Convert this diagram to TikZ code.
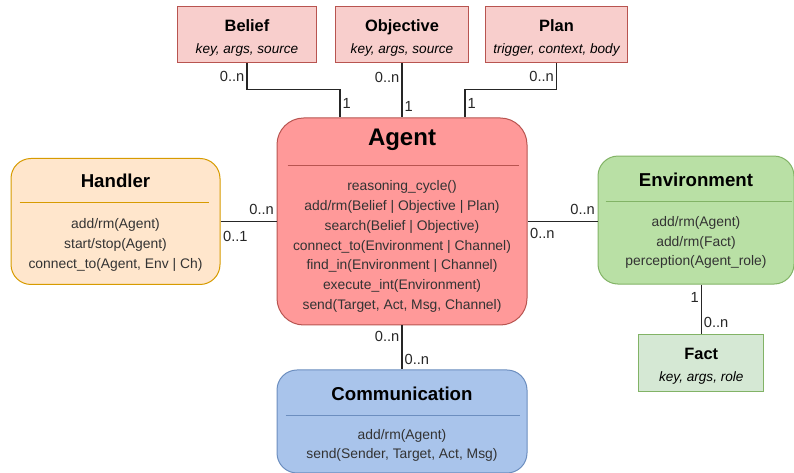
\documentclass[tikz,border=0pt]{standalone}
\usepackage{fontspec}
\setmainfont{Liberation Sans}
\usetikzlibrary{positioning,calc}
\usepackage{xcolor}

\definecolor{beliefred}{HTML}{F8CECC}
\definecolor{redline}{HTML}{B85450}
\definecolor{agentred}{HTML}{FF9999}
\definecolor{handlerorange}{HTML}{FFE6CC}
\definecolor{orangeline}{HTML}{D79B00}
\definecolor{envgreen}{HTML}{B9E0A5}
\definecolor{factgreen}{HTML}{D5E8D4}
\definecolor{greenline}{HTML}{82B366}
\definecolor{commblue}{HTML}{A9C4EB}
\definecolor{blueline}{HTML}{6C8EBF}

\begin{document}
\begin{tikzpicture}[
				x=0.75pt,y=-0.75pt,
				node distance=40.5pt,
				cls/.style={draw,rectangle,rounded corners=15pt,line width=0.75pt},
				prop/.style={draw=redline,fill=beliefred,rectangle,line width=0.75pt,minimum height=42pt,align=center,inner sep=1pt,font=\fontsize{12.3}{16.5}\selectfont},
				ttl/.style={font=\bfseries\fontsize{14}{16}\selectfont},
				ops/.style={align=center,text=black!80,font=\fontsize{10.4}{14.8}\selectfont},
				card/.style={font=\fontsize{11}{12}\selectfont,text=black!85,inner sep=1.5pt},
				conn/.style={line width=0.9pt,black!85}
				]
				
				\useasboundingbox (0,0) rectangle (794,473);
				
				% Klassen
				\node[cls,fill=agentred,draw=redline,rounded corners=20pt,minimum width=187.5pt,minimum height=155.25pt] (agent) at (402,221.5) {};
				\node[prop,above=of agent,minimum width=99.75pt] (objective) {\rule{0pt}{13.5pt}{\bfseries Objective}\\{\itshape\fontsize{10.2}{16.5}\selectfont key, args, source}};
				\node[prop,left=13.5pt of objective,minimum width=104.25pt] (belief) {\rule{0pt}{13.5pt}{\bfseries Belief}\\{\itshape\fontsize{10.2}{16.5}\selectfont key, args, source}};
				\node[prop,right=12pt of objective,minimum width=106.5pt] (plan) {\rule{0pt}{13.5pt}{\bfseries Plan}\\{\itshape\fontsize{10.2}{16.5}\selectfont trigger, context, body}};
				\node[cls,fill=handlerorange,draw=orangeline,left=42pt of agent,minimum width=156.75pt,minimum height=94.5pt] (handler) {};
				\node[cls,fill=envgreen,draw=greenline,right=52.5pt of agent,yshift=1.1pt,minimum width=147pt,minimum height=96pt] (env) {};
				\node[cls,fill=commblue,draw=blueline,below=33pt of agent,minimum width=187.5pt,minimum height=77.25pt] (comm) {};
				\node[prop,draw=greenline,fill=factgreen,below=36.75pt of env,xshift=4pt,minimum width=93.75pt,minimum height=42.75pt] (fact) {\rule{0pt}{13.5pt}{\bfseries Fact}\\{\itshape\fontsize{10.2}{16.5}\selectfont key, args, role}};
				
				% Inhalt Agent
				\node[ttl,font=\bfseries\fontsize{18}{20}\selectfont] (agentttl) at ($(agent.north)+(0,22)$) {Agent};
				\draw[redline,line width=0.75pt] ($(agent.north west)+(11,48)$) -- ($(agent.north east)+(-9,48)$);
				\node[ops] (agentops) at ($(agent.north)+(0,129)$) {reasoning\_cycle()\\add/rm(Belief | Objective | Plan)\\search(Belief | Objective)\\connect\_to(Environment | Channel)\\find\_in(Environment | Channel)\\execute\_int(Environment)\\send(Target, Act, Msg, Channel)};
				
				% Inhalt Handler
				\node[ttl] (handlerttl) at ($(handler.north)+(0,23)$) {Handler};
				\draw[orangeline,line width=0.75pt] ($(handler.north west)+(9,45)$) -- ($(handler.north east)+(-12,45)$);
				\node[ops] (handlerops) at ($(handler.north)+(0,87)$) {add/rm(Agent)\\start/stop(Agent)\\connect\_to(Agent, Env | Ch)};
				
				% Inhalt Environment
				\node[ttl] (envttl) at ($(env.north)+(0,24)$) {Environment};
				\draw[greenline,line width=0.75pt] ($(env.north west)+(8,46)$) -- ($(env.north east)+(-3,46)$);
				\node[ops] (envops) at ($(env.north)+(0,87)$) {add/rm(Agent)\\add/rm(Fact)\\perception(Agent\_role)};
				
				% Inhalt Communication
				\node[ttl] (commttl) at ($(comm.north)+(0,24)$) {Communication};
				\draw[blueline,line width=0.75pt] ($(comm.north west)+(9,46)$) -- ($(comm.north east)+(-8,46)$);
				\node[ops] (commops) at ($(comm.north)+(0,76)$) {add/rm(Agent)\\send(Sender, Target, Act, Msg)};
				
				% Verbindungen
				\draw[conn] (belief.south) -- ++(0,26) node[card,midway,left] {0..n} -| ($(agent.north)+(-62,0)$) node[card,pos=0.75,right] {1};
				\draw[conn] (objective.south) -- (objective.south |- agent.north) node[card,pos=0.26,left] {0..n} node[card,pos=0.8,right] {1};
				\draw[conn] (plan.south) -- ++(0,26) node[card,midway,left] {0..n} -| ($(agent.north)+(63,0)$) node[card,pos=0.75,right] {1};
				\draw[conn] (handler.east |- agent.west) -- (agent.west) node[card,pos=1,above left,yshift=3pt] {0..n} node[card,pos=0,below right,yshift=-5pt] {0..1};
				\draw[conn] (agent.east) -- (agent.east -| env.west) node[card,pos=1,above left,yshift=3pt] {0..n} node[card,pos=0,below right,yshift=-3pt] {0..n};
				\draw[conn] (agent.south) -- (comm.north) node[card,pos=0.25,left] {0..n} node[card,pos=0.77,right] {0..n};
				\draw[conn] (fact.north |- env.south) -- (fact.north) node[card,pos=0.27,left] {1} node[card,pos=0.78,right] {0..n};
				
			\end{tikzpicture}
\end{document}
